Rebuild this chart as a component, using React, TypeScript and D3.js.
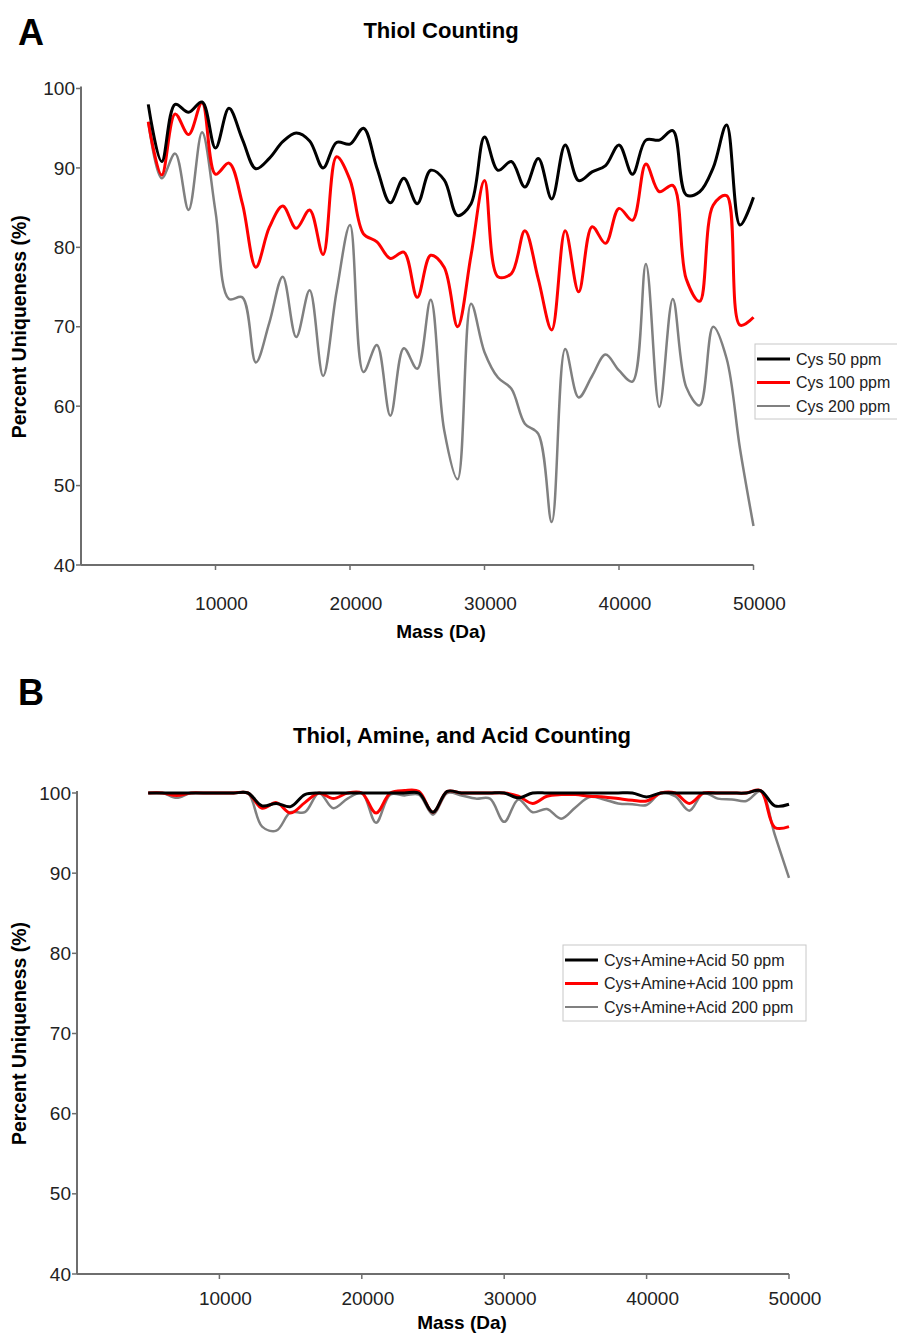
import React from "react";
import * as d3 from "d3";

// mass grid (Da) shared by every series
const mass = [
  5000, 6000, 7000, 8000, 9000, 10000, 11000, 12000, 13000, 14000, 15000, 16000,
  17000, 18000, 19000, 20000, 21000, 22000, 23000, 24000, 25000, 26000, 27000,
  28000, 29000, 30000, 31000, 32000, 33000, 34000, 35000, 36000, 37000, 38000,
  39000, 40000, 41000, 42000, 43000, 44000, 45000, 46000, 47000, 48000, 49000, 50000
];

// panel A: thiol counting
const cys50 = [
  98, 90.8, 98, 97, 98.3, 92.5, 97.5, 93.6, 89.9, 91.2, 93.3, 94.4, 93.4, 90, 93.2, 93,
  95, 90, 85.6, 88.7, 85.5, 89.7, 88.5, 84, 85.5, 93.9, 89.7, 90.8, 87.6, 91.2, 86.1,
  92.9, 88.4, 89.5, 90.3, 92.9, 89.2, 93.5, 93.5, 94.7, 86.6, 87, 90, 95.4, 82.8, 86.3
];
const cys100 = [
  95.8, 89.1, 96.8, 94.2, 98.2, 89.2, 90.6, 85.5, 77.5, 82.5, 85.2, 82.4, 84.7, 79.1,
  91.4, 88.5, 81.7, 80.7, 78.6, 79.4, 73.7, 79, 77.5, 70, 79, 88.4, 76.3, 76.7, 82.1,
  76, 69.6, 82.1, 74.4, 82.6, 80.5, 84.9, 83.4, 90.5, 87, 87.8, 76, 73.2, 85.3, 86.5,
  70.2, 71.2
];
const cys200 = [
  95.8, 88.7, 91.8, 84.7, 94.5, 84.5, 73.5, 73.7, 65.5, 70.5, 76.3, 68.7, 74.6, 63.8,
  74.4, 82.8, 64.3, 67.7, 58.8, 67.3, 64.7, 73.4, 57, 50.8, 72.9, 66.8, 63.6, 62.2, 57.8,
  56.5, 45.4, 67.2, 61.1, 63.8, 66.5, 64.5, 63.1, 77.9, 59.9, 73.5, 62.4, 60.1, 70, 66,
  54.6, 44.9
];

// panel B: thiol + amine + acid counting
const all50 = [
  100, 100, 100, 100, 100, 100, 100, 100, 98.4, 98.7, 98.3, 99.8, 100, 100, 100, 100,
  100, 100, 100, 100, 97.6, 100.2, 100, 100, 100, 100, 99.4, 100, 100, 100, 100, 100,
  100, 100, 100, 99.5, 100, 100, 100, 100, 100, 100, 100, 100.3, 98.4, 98.6
];
const all100 = [
  100, 100, 99.7, 100, 100, 100, 100, 100, 98.1, 98.8, 97.5, 98.8, 100, 99.3, 100, 100,
  97.5, 100, 100.3, 100.2, 97.6, 100.2, 100, 100, 100, 100, 99.6, 98.7, 99.6, 99.8, 99.8,
  99.6, 99.5, 99.3, 99.1, 99, 100, 100, 98.7, 100, 100, 100, 100, 100.3, 95.7, 95.8
];
const all200 = [
  100, 100, 99.4, 100, 100, 100, 100, 100, 95.8, 95.3, 97.6, 97.6, 100, 98.1, 99.3, 100,
  96.3, 99.8, 99.7, 99.8, 97.3, 100, 99.7, 99.3, 99.3, 96.4, 99.2, 97.6, 98, 96.8, 98.2,
  99.5, 99.2, 98.7, 98.6, 98.5, 100, 99.6, 97.8, 100, 99.3, 99.2, 99, 100.2, 94.8, 89.4
];

const yTicks = [40, 50, 60, 70, 80, 90, 100];
const xTicks = [10000, 20000, 30000, 40000, 50000];
const colors = ["#000000", "#ff0000", "#808080"];
const widths = [3, 3, 2.5];

const FONT = "Liberation Sans, Arial, Helvetica, sans-serif";
const AXIS = "#6e6e6e";

function Panel({ letter, title, names, series, xr, yr, titleX, titleY, letterY, tickGap, labelGap, legend }) {
  const x = d3.scaleLinear().domain([0, 50000]).range(xr);
  const y = d3.scaleLinear().domain([40, 100]).range(yr);
  const line = d3
    .line()
    .x((d) => x(d[0]))
    .y((d) => y(d[1]))
    .curve(d3.curveCatmullRom.alpha(0.5));
  const x0 = xr[0];
  const y0 = yr[0];
  const yMid = (yr[0] + yr[1]) / 2;
  return (
    <g fontFamily={FONT}>
      <text x={18} y={letterY} fontSize={36} fontWeight="bold">{letter}</text>
      <text x={titleX} y={titleY} fontSize={22} fontWeight="bold" textAnchor="middle">
        {title}
      </text>
      {/* axes */}
      <line x1={x0} x2={x0} y1={yr[1] - 2} y2={y0} stroke={AXIS} strokeWidth={2} />
      <line x1={x0} x2={xr[1]} y1={y0} y2={y0} stroke={AXIS} strokeWidth={2} />
      {yTicks.map((t) => (
        <g key={t}>
          <line x1={x0 - 5} x2={x0} y1={y(t)} y2={y(t)} stroke={AXIS} strokeWidth={1.5} />
          <text x={x0 - 6} y={y(t)} dy="0.35em" fontSize={19} textAnchor="end" fill="#222">{t}</text>
        </g>
      ))}
      {xTicks.map((t) => (
        <g key={t}>
          <line x1={x(t)} x2={x(t)} y1={y0} y2={y0 + 5} stroke={AXIS} strokeWidth={1.5} />
          <text x={x(t) + 6} y={y0 + tickGap} fontSize={19} textAnchor="middle" fill="#222">{t}</text>
        </g>
      ))}
      <text x={titleX} y={y0 + labelGap} fontSize={19} fontWeight="bold" textAnchor="middle">
        Mass (Da)
      </text>
      <text
        transform={`translate(26,${yMid}) rotate(-90)`}
        fontSize={19.5}
        fontWeight="bold"
        textAnchor="middle"
      >
        Percent Uniqueness (%)
      </text>
      {/* series, drawn grey first so black sits on top */}
      {[2, 1, 0].map((i) => (
        <path
          key={i}
          d={line(mass.map((m, k) => [m, series[i][k]]))}
          fill="none"
          stroke={colors[i]}
          strokeWidth={widths[i]}
          strokeLinejoin="round"
        />
      ))}
      {/* legend */}
      <rect x={legend.x} y={legend.y} width={legend.w} height={legend.h} fill="white" stroke="#c8c8c8" />
      {names.map((n, i) => (
        <g key={n} transform={`translate(${legend.x + 2},${legend.y + 15 + i * 23.5})`}>
          <line x1={0} x2={33} y1={0} y2={0} stroke={colors[i]} strokeWidth={i === 2 ? 2 : 3} />
          <text x={39} y={0} dy="0.35em" fontSize={16} fill="#222">{n}</text>
        </g>
      ))}
    </g>
  );
}

export default function App() {
  return (
    <div>
      <style>{"body{margin:0}"}</style>
      <svg width={897} height={1336} style={{ display: "block", background: "white" }}>
        <Panel
          letter="A"
          title="Thiol Counting"
          names={["Cys 50 ppm", "Cys 100 ppm", "Cys 200 ppm"]}
          series={[cys50, cys100, cys200]}
          xr={[81, 753.5]}
          yr={[565, 88.5]}
          titleX={441}
          titleY={38}
          letterY={45}
          tickGap={45}
          labelGap={73}
          legend={{ x: 755, y: 344, w: 160, h: 75 }}
        />
        <Panel
          letter="B"
          title="Thiol, Amine, and Acid Counting"
          names={["Cys+Amine+Acid 50 ppm", "Cys+Amine+Acid 100 ppm", "Cys+Amine+Acid 200 ppm"]}
          series={[all50, all100, all200]}
          xr={[77, 789]}
          yr={[1274, 793]}
          titleX={462}
          titleY={743}
          letterY={705}
          tickGap={31}
          labelGap={55}
          legend={{ x: 563, y: 945, w: 243, h: 76 }}
        />
      </svg>
    </div>
  );
}
